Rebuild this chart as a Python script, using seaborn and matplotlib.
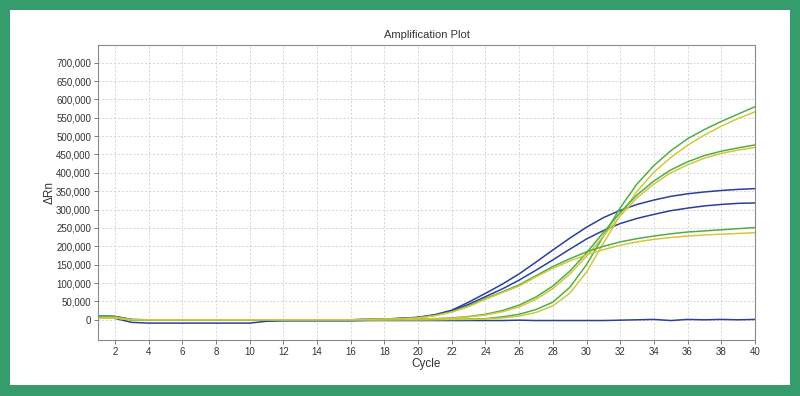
import numpy as np
import pandas as pd
import matplotlib
matplotlib.use("Agg")
import matplotlib.pyplot as plt
import seaborn as sns
from matplotlib.patches import Rectangle
from matplotlib.ticker import FuncFormatter

cycles = list(range(1, 41))

# delta Rn values, one list per well (cycles 1..40)
blue_a = [9000, 9000, 1000, 0, 0, 0, 0, 0, 0, 0,
          0, 0, 0, 0, 0, 0, 1000, 2000, 4000, 7000,
          14000, 26000, 48000, 72000, 97000, 125000, 157000, 190000, 222000, 252000,
          278000, 298000, 314000, 326000, 336000, 343000, 348000, 352000, 355000, 357000]
blue_b = [10000, 9000, 0, 0, 0, 0, 0, 0, 0, 0,
          0, 0, 0, 0, 0, 0, 1000, 2000, 4000, 6000,
          13000, 24000, 42000, 63000, 84000, 108000, 135000, 163000, 192000, 220000,
          243000, 262000, 276000, 287000, 297000, 304000, 310000, 314000, 317000, 318000]
blue_flat = [6000, 4000, -7000, -9000, -9000, -9000, -9000, -9000, -9000, -9000,
             -4000, -3000, -3000, -3000, -3000, -3000, -2000, -2000, -2000, -2000,
             -2000, -2000, -2000, -2000, -2000, -1000, -2000, -2000, -2000, -2000,
             -2000, -1000, 0, 1000, -2000, 1000, 0, 1000, 0, 1000]
green_1 = [8000, 7000, 0, 0, 0, 0, 0, 0, 0, 0,
           0, 0, 0, 0, 0, 0, 0, 0, 0, 0,
           1000, 1000, 2000, 3000, 8000, 15000, 28000, 48000, 88000, 150000,
           228000, 305000, 370000, 420000, 460000, 493000, 518000, 540000, 560000, 580000]
yellow_1 = [5000, 5000, 0, 0, 0, 0, 0, 0, 0, 0,
            0, 0, 0, 0, 0, 0, 0, 0, 0, 0,
            0, 1000, 1000, 2000, 5000, 10000, 20000, 38000, 72000, 130000,
            208000, 285000, 350000, 402000, 442000, 475000, 503000, 527000, 548000, 566000]
green_2 = [9000, 8000, 0, 0, 0, 0, 0, 0, 0, 0,
           0, 0, 0, 0, 0, 0, 0, 0, 1000, 2000,
           3000, 5000, 9000, 15000, 25000, 40000, 62000, 92000, 132000, 182000,
           238000, 292000, 340000, 378000, 408000, 430000, 447000, 459000, 468000, 476000]
yellow_2 = [5000, 5000, 0, 0, 0, 0, 0, 0, 0, 0,
            0, 0, 0, 0, 0, 0, 0, 0, 1000, 2000,
            3000, 4000, 8000, 13000, 22000, 35000, 56000, 85000, 124000, 173000,
            228000, 283000, 332000, 370000, 400000, 422000, 440000, 453000, 462000, 469000]
green_3 = [10000, 9000, 0, 0, 0, 0, 0, 0, 0, 0,
           0, 0, 0, 0, 0, 0, 1000, 2000, 3000, 6000,
           12000, 22000, 38000, 58000, 76000, 95000, 120000, 145000, 166000, 185000,
           200000, 212000, 221000, 228000, 234000, 239000, 242000, 245000, 248000, 251000]
yellow_3 = [6000, 6000, 0, 0, 0, 0, 0, 0, 0, 0,
            0, 0, 0, 0, 0, 0, 1000, 2000, 3000, 5000,
            11000, 21000, 36000, 56000, 74000, 92000, 117000, 140000, 160000, 177000,
            191000, 203000, 212000, 219000, 224000, 228000, 231000, 233000, 235000, 237000]

wells = {
    "blue_a": blue_a, "blue_b": blue_b, "blue_flat": blue_flat,
    "green_1": green_1, "yellow_1": yellow_1,
    "green_2": green_2, "yellow_2": yellow_2,
    "green_3": green_3, "yellow_3": yellow_3,
}
BLUE, GREEN, YELLOW = "#2c3f9a", "#4fae4a", "#d2c83a"
palette = {k: (BLUE if k.startswith("blue") else GREEN if k.startswith("green") else YELLOW)
           for k in wells}

df = pd.DataFrame([{"well": w, "cycle": c, "drn": v}
                   for w, vals in wells.items() for c, v in zip(cycles, vals)])

sns.set_style("whitegrid")
plt.rcParams["font.family"] = ["Liberation Sans", "DejaVu Sans"]

fig = plt.figure(figsize=(8, 3.96), dpi=100, facecolor="#379c6d")
# white card inside the green frame
fig.patches.append(Rectangle((10 / 800, 11 / 396), 780 / 800, 375 / 396,
                             transform=fig.transFigure, facecolor="white",
                             edgecolor="none", zorder=-10))
ax = fig.add_axes([98 / 800, 1 - 340 / 396, 657 / 800, 295 / 396])
ax.set_zorder(5)

sns.lineplot(data=df, x="cycle", y="drn", hue="well", palette=palette,
             linewidth=1.1, legend=False, ax=ax, estimator=None)

ax.set_xlim(1, 40)
ax.set_xticks(range(2, 41, 2))
ax.set_yticks(range(0, 700001, 50000))
ax.set_ylim(-55000, 748000)
ax.yaxis.set_major_formatter(FuncFormatter(lambda v, p: f"{int(v):,}"))
ax.grid(True, color="#d4d4d4", linestyle=(0, (2, 2)), linewidth=0.7)
for s in ax.spines.values():
    s.set_color("#8a8a8a")
    s.set_linewidth(0.8)
ax.tick_params(axis="both", labelsize=7, colors="#333333", length=3,
               width=0.6, direction="out", left=True, bottom=True, pad=2)
ax.tick_params(axis="both", color="#666666")
ax.set_xlabel("Cycle", fontsize=8.5, color="#333333", labelpad=1)
ax.set_ylabel("ΔRn", fontsize=8.5, color="#333333", labelpad=0)
ax.set_title("Amplification Plot", fontsize=8, color="#333333", pad=5)

fig.savefig("out.png", dpi=100, facecolor=fig.get_facecolor())
